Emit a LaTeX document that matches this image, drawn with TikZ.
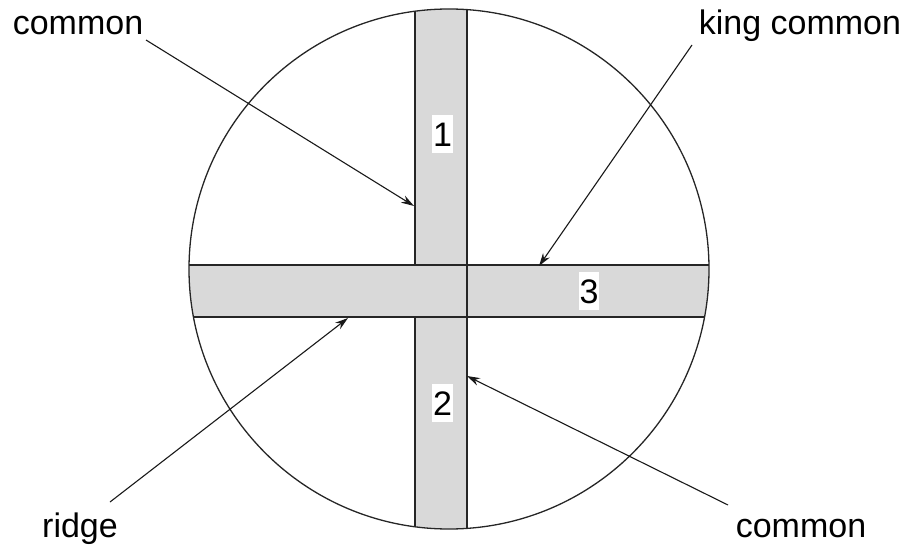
\documentclass[tikz,border=0pt]{standalone}
\usepackage{fontspec}
\setmainfont{Liberation Sans}
\usetikzlibrary{arrows.meta}
\begin{document}
\begin{tikzpicture}[x=1pt,y=-1pt,
  bandfill/.style={fill=black!15},
  edge/.style={line width=1.3pt,black!85},
  lbl/.style={font=\fontsize{34}{40}\selectfont,inner sep=0pt,anchor=base},
  numbox/.style={fill=white,font=\fontsize{34}{40}\selectfont,inner xsep=1pt,inner ysep=6.5pt,text height=25pt,text depth=0pt},
  arr/.style={line width=1.1pt,black!90,-{Stealth[length=13pt,width=8pt]}}]
\useasboundingbox (0,0) rectangle (910,548);
\coordinate (C) at (449,269);
\begin{scope}
  \clip (C) circle (260);
  \fill[bandfill] (415,0) rectangle (467,548);
  \fill[bandfill] (0,265) rectangle (910,317);
  \draw[edge] (415,0) -- (415,265);
  \draw[edge] (415,317) -- (415,548);
  \draw[edge] (467,0) -- (467,548);
  \draw[edge] (0,265) -- (910,265);
  \draw[edge] (0,317) -- (910,317);
\end{scope}
\draw[edge] (C) circle (260);
% numbers
\node[numbox] (n1) at (442.5,134) {1};
\node[numbox] (n2) at (442.5,403) {2};
\node[numbox] (n3) at (589,291) {3};
% labels
\node[lbl] (lc1) at (78,35) {common};
\node[lbl] (lkc) at (800,35) {king common};
\node[lbl] (lr) at (80,537) {ridge};
\node[lbl] (lc2) at (801,537) {common};
% arrow starts and targets
\coordinate (s1) at (146,40);
\coordinate (t1) at (414,206);
\coordinate (s2) at (692,45);
\coordinate (t2) at (539,266);
\coordinate (s3) at (110,502);
\coordinate (t3) at (348,318);
\coordinate (s4) at (728,505);
\coordinate (t4) at (467,376);
\draw[arr] (s1) -- (t1);
\draw[arr] (s2) -- (t2);
\draw[arr] (s3) -- (t3);
\draw[arr] (s4) -- (t4);
\end{tikzpicture}
\end{document}
